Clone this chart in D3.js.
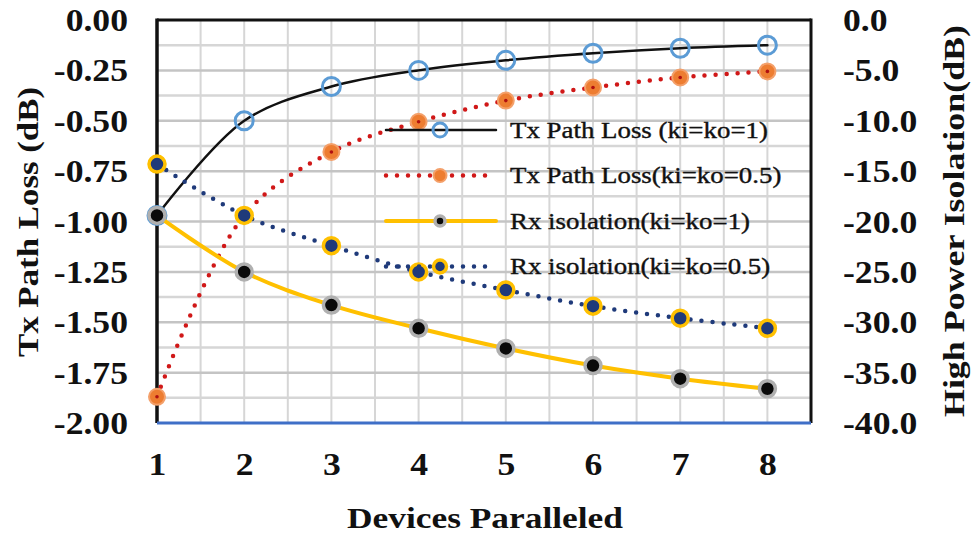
<!DOCTYPE html>
<html>
<head>
<meta charset="utf-8">
<script src="https://cdn.jsdelivr.net/npm/d3@7"></script>
<style>
	body { margin: 0; background: #fff; }
	text { font-family: "Liberation Serif", "Times New Roman", serif; fill: #111; }
</style>
</head>
<body>
<div id="chart"></div>
<script>
// data
var devices = [1, 2, 3, 4, 5, 6, 7, 8];
var txLoss1 = [-0.97, -0.50, -0.33, -0.25, -0.20, -0.165, -0.14, -0.125];
var txLoss05 = [-1.87, -0.97, -0.655, -0.505, -0.40, -0.335, -0.285, -0.255];
var rxIso1 = [-19.4, -25.0, -28.3, -30.6, -32.6, -34.3, -35.6, -36.6];
var rxIso05 = [-14.3, -19.4, -22.4, -25.0, -26.8, -28.4, -29.6, -30.6];
var leftTicks = [0, -0.25, -0.5, -0.75, -1, -1.25, -1.5, -1.75, -2];
var rightTicks = [0, -5, -10, -15, -20, -25, -30, -35, -40];
var legendNames = ["Tx Path Loss (ki=ko=1)", "Tx Path Loss(ki=ko=0.5)", "Rx isolation(ki=ko=1)", "Rx isolation(ki=ko=0.5)"];

var width = 971, height = 536;
var plot = { left: 157, right: 811, top: 20, bottom: 423 };
var stretch = 1.15; // the original text is a bit wide

var svg = d3.select("#chart").append("svg")
	.attr("width", width)
	.attr("height", height);

var x = d3.scaleLinear().domain([1, 8.5]).range([plot.left, plot.right]);
var yL = d3.scaleLinear().domain([-2, 0]).range([plot.bottom, plot.top]);
var yR = d3.scaleLinear().domain([-40, 0]).range([plot.bottom, plot.top]);

// grid
svg.append("g").selectAll("line.v")
	.data(d3.range(1.5, 8.5, 0.5))
	.enter().append("line")
	.attr("x1", function(d) { return x(d); })
	.attr("x2", function(d) { return x(d); })
	.attr("y1", plot.top).attr("y2", plot.bottom)
	.attr("stroke", "#d6d6d6").attr("stroke-width", 2);
svg.append("g").selectAll("line.h")
	.data(d3.range(-1.875, 0, 0.125))
	.enter().append("line")
	.attr("x1", plot.left).attr("x2", plot.right)
	.attr("y1", function(d) { return yL(d); })
	.attr("y2", function(d) { return yL(d); })
	.attr("stroke", function(d, i) { return i % 2 ? "#c4c4c4" : "#d6d6d6"; })
	.attr("stroke-width", 2.5);

// frame
svg.append("line").attr("x1", plot.left).attr("x2", plot.right).attr("y1", plot.top).attr("y2", plot.top)
	.attr("stroke", "#111").attr("stroke-width", 3);
svg.append("line").attr("x1", plot.left).attr("x2", plot.left).attr("y1", plot.top - 1.5).attr("y2", plot.bottom)
	.attr("stroke", "#111").attr("stroke-width", 3.5);
svg.append("line").attr("x1", plot.right).attr("x2", plot.right).attr("y1", plot.top - 1.5).attr("y2", plot.bottom)
	.attr("stroke", "#111").attr("stroke-width", 3);
svg.append("line").attr("x1", plot.left).attr("x2", plot.right).attr("y1", plot.bottom).attr("y2", plot.bottom)
	.attr("stroke", "#3f6fc7").attr("stroke-width", 3);

// axes (labels only)
var leftAxis = svg.append("g")
	.attr("transform", "translate(" + (plot.left - 29) + ",0)")
	.call(d3.axisLeft(yL).tickValues(leftTicks).tickSize(0).tickFormat(d3.format(".2f")));
var rightAxis = svg.append("g")
	.attr("transform", "translate(" + (plot.right + 32) + ",0)")
	.call(d3.axisRight(yR).tickValues(rightTicks).tickSize(0).tickFormat(d3.format(".1f")));
var bottomAxis = svg.append("g")
	.attr("transform", "translate(0," + (plot.bottom + 30) + ")")
	.call(d3.axisBottom(x).tickValues(devices).tickSize(0).tickFormat(d3.format("d")));
[leftAxis, rightAxis, bottomAxis].forEach(function(a) {
	a.select(".domain").remove();
	a.selectAll("text")
		.style("font-family", "Liberation Serif")
		.style("font-size", "31px")
		.style("font-weight", "bold")
		.attr("fill", "#111")
		.attr("transform", "scale(" + stretch + ",1)");
});
leftAxis.selectAll("text").attr("dy", "0.34em").attr("x", 0)
	.text(function(d) { return d3.format(".2f")(d).replace("\u2212", "-"); });
rightAxis.selectAll("text").attr("dy", "0.34em").attr("x", 0)
	.text(function(d) { return d3.format(".1f")(d).replace("\u2212", "-"); });
bottomAxis.selectAll("text").attr("dy", "0.71em").attr("y", 0);

// axis titles
svg.append("text")
	.attr("transform", "translate(38,222) rotate(-90)")
	.attr("text-anchor", "middle")
	.attr("textLength", 270).attr("lengthAdjust", "spacingAndGlyphs")
	.style("font-size", "30px").style("font-weight", "bold")
	.text("Tx Path Loss (dB)");
svg.append("text")
	.attr("transform", "translate(964,221) rotate(-90)")
	.attr("text-anchor", "middle")
	.attr("textLength", 392).attr("lengthAdjust", "spacingAndGlyphs")
	.style("font-size", "30px").style("font-weight", "bold")
	.text("High Power Isolation(dB)");
svg.append("text")
	.attr("x", 485).attr("y", 528)
	.attr("text-anchor", "middle")
	.attr("textLength", 276).attr("lengthAdjust", "spacingAndGlyphs")
	.style("font-size", "30px").style("font-weight", "bold")
	.text("Devices Paralleled");

// series
var series = [
	{ values: txLoss1, y: yL, line: "#111", lw: 2.5, dash: null,
		r: 9, fill: "none", stroke: "#5b9bd5", sw: 3 },
	{ values: txLoss05, y: yL, line: "#d01818", lw: 4.5, dash: "0 11",
		r: 8, fill: "#ed7d31", stroke: "#f4a06a", sw: 2 },
	{ values: rxIso1, y: yR, line: "#ffc000", lw: 4, dash: null,
		r: 8, fill: "#0a0a0a", stroke: "#b0b0b0", sw: 3.5 },
	{ values: rxIso05, y: yR, line: "#1f3a7a", lw: 4.5, dash: "0 11",
		r: 8, fill: "#1f3a7a", stroke: "#ffc000", sw: 3.5 }
];

series.forEach(function(s, k) {
	var pts = devices.map(function(d, i) { return [d, s.values[i]]; });
	var line = d3.line()
		.x(function(p) { return x(p[0]); })
		.y(function(p) { return s.y(p[1]); })
		.curve(d3.curveCatmullRom.alpha(0.5));
	svg.append("path")
		.datum(pts)
		.attr("d", line)
		.attr("fill", "none")
		.attr("stroke", s.line)
		.attr("stroke-width", s.lw)
		.attr("stroke-linecap", "round")
		.attr("stroke-dasharray", s.dash);
	var g = svg.append("g");
	g.selectAll("circle")
		.data(pts)
		.enter().append("circle")
		.attr("cx", function(p) { return x(p[0]); })
		.attr("cy", function(p) { return s.y(p[1]); })
		.attr("r", s.r)
		.attr("fill", s.fill)
		.attr("stroke", s.stroke)
		.attr("stroke-width", s.sw);
	if (k === 1) {
		g.selectAll("circle.c")
			.data(pts)
			.enter().append("circle")
			.attr("cx", function(p) { return x(p[0]); })
			.attr("cy", function(p) { return s.y(p[1]); })
			.attr("r", 1.8)
			.attr("fill", "#b01010");
	}
});

// legend
var legend = svg.append("g");
series.forEach(function(s, i) {
	var ly = 130 + i * 45.5;
	legend.append("line")
		.attr("x1", 386).attr("x2", 496)
		.attr("y1", ly).attr("y2", ly)
		.attr("stroke", s.line)
		.attr("stroke-width", s.lw)
		.attr("stroke-linecap", "round")
		.attr("stroke-dasharray", s.dash);
	legend.append("circle")
		.attr("cx", 440).attr("cy", ly)
		.attr("r", i === 2 ? 5 : (i === 0 ? 7 : 6.5))
		.attr("fill", s.fill)
		.attr("stroke", s.stroke)
		.attr("stroke-width", s.sw);
	legend.append("text")
		.attr("transform", "translate(510," + ly + ") scale(1.12,1)")
		.attr("dy", "0.33em")
		.style("font-size", "24px")
		.style("stroke", "#111").style("stroke-width", 0.4)
		.text(legendNames[i]);
});
</script>
</body>
</html>
